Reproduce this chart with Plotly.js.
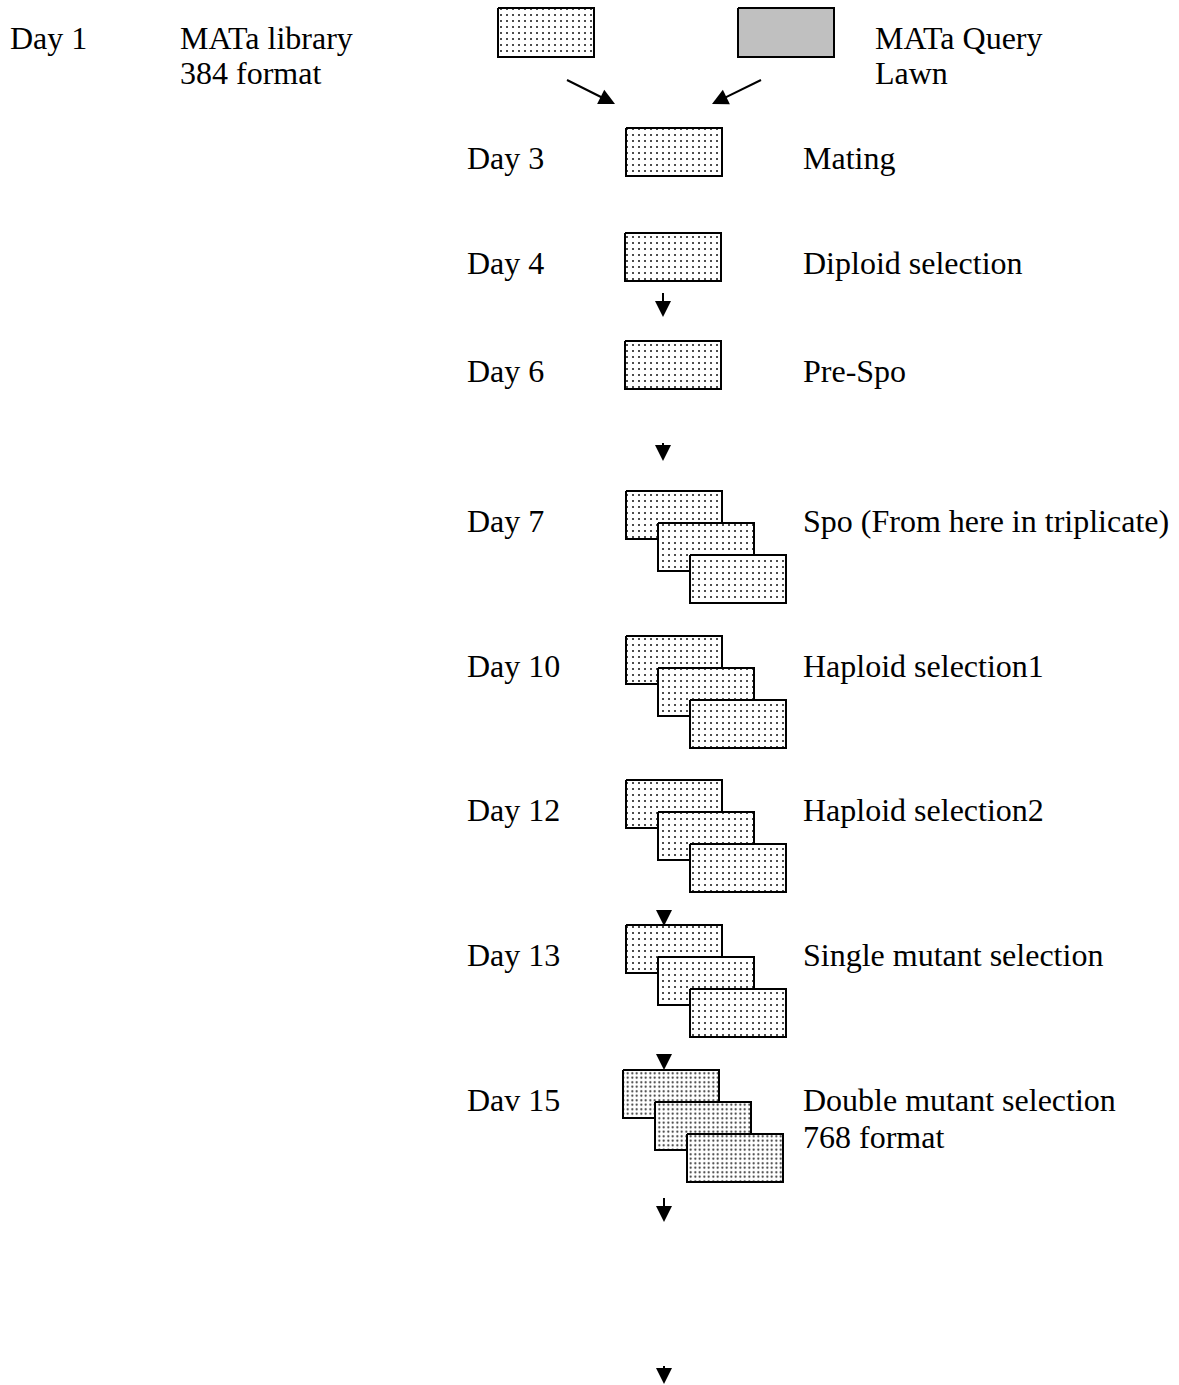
<!DOCTYPE html>
<html>
<head>
<meta charset="utf-8">
<script src="https://cdn.plot.ly/plotly-3.0.1.min.js"></script>
<style>
html,body{margin:0;padding:0;background:#fff;}
#chart{width:1179px;height:1385px;}
</style>
</head>
<body>
<div id="chart"></div>
<script>
// ---- content (data) ----
const headerDay = "Day 1";
const libraryLines = ["MATa library", "384 format"];
const queryLines = ["MATa Query", "Lawn"];
const stepDays = ["Day 3", "Day 4", "Day 6", "Day 7", "Day 10", "Day 12", "Day 13", "Dav 15"];
const stepNames = ["Mating", "Diploid selection", "Pre-Spo", "Spo (From here in triplicate)",
                   "Haploid selection1", "Haploid selection2", "Single mutant selection", "Double mutant selection"];
const stepSubNames = ["", "", "", "", "", "", "", "768 format"];
const stepPlates = [1, 1, 1, 3, 3, 3, 3, 3];
const stepDense = [false, false, false, false, false, false, false, true];

// ---- layout geometry (pixel space) ----
const W = 1179, H = 1385;
const geo = {
  stepTop: [128, 233, 341, 491, 636, 780, 925, 1070],
  stepLeft: [626, 625, 625, 626, 626, 626, 626, 623],
  plateW: 96, plateH: 48, offset: 32,
  dayX: 467, nameX: 803, labelDy: 30, subDy: 67,
  libBox: [498, 8, 594, 57], queryBox: [738, 8, 834, 57],
  arrows: [[567,80,615,104],[761,80,712,104],[663,293,663,317],[663,443,663,461],
           [664,911,664,926],[664,1054,664,1070],[664,1198,664,1222],[664,1366,664,1384]],
  headLen: 16, headHalf: 8
};
const FONT = {family: "Liberation Serif, Times New Roman, serif", size: 32, color: "#000"};

const traces = [];
function boxTrace(b, fill, dense) {
  const t = {
    type: "scatter", mode: "lines",
    x: [b[0], b[2], b[2], b[0], b[0]],
    y: [b[1], b[1], b[3], b[3], b[1]],
    fill: "toself",
    line: {color: "#000", width: 2},
    hoverinfo: "skip"
  };
  if (fill) { t.fillcolor = fill; }
  else {
    t.fillcolor = "white";
    t.fillpattern = dense
      ? {shape: ".", size: 4.5, solidity: 0.16, fgcolor: "#222", bgcolor: "white"}
      : {shape: ".", size: 6, solidity: 0.09, fgcolor: "#111", bgcolor: "white"};
  }
  return t;
}
traces.push(boxTrace(geo.libBox, null, false));
traces.push(boxTrace(geo.queryBox, "#c0c0c0", false));
stepDays.forEach((d, i) => {
  for (let k = 0; k < stepPlates[i]; k++) {
    const x0 = geo.stepLeft[i] + k * geo.offset, y0 = geo.stepTop[i] + k * geo.offset;
    traces.push(boxTrace([x0, y0, x0 + geo.plateW, y0 + geo.plateH], null, stepDense[i]));
  }
});

const annotations = [];
function label(text, x, y) {
  annotations.push({text: text, x: x, y: y, xref: "x", yref: "y", xanchor: "left", yanchor: "middle",
                    showarrow: false, font: FONT, borderpad: 0, borderwidth: 0});
}
label(headerDay, 10, 38);
libraryLines.forEach((t, j) => label(t, 180, 38 + 35 * j));
queryLines.forEach((t, j) => label(t, 875, 38 + 35 * j));
stepDays.forEach((d, i) => {
  const yc = geo.stepTop[i] + geo.labelDy;
  label(d, geo.dayX, yc);
  label(stepNames[i], geo.nameX, yc);
  if (stepSubNames[i]) label(stepSubNames[i], geo.nameX, geo.stepTop[i] + geo.subDy);
});

const shapes = [];
geo.arrows.forEach(a => {
  const [x0, y0, x1, y1] = a;
  const dx = x1 - x0, dy = y1 - y0, L = Math.hypot(dx, dy);
  const ux = dx / L, uy = dy / L, px = -uy, py = ux;
  const bx = x1 - ux * geo.headLen, by = y1 - uy * geo.headLen;
  shapes.push({type: "line", xref: "x", yref: "y", x0: x0, y0: y0, x1: bx + ux * 2, y1: by + uy * 2,
               line: {color: "#000", width: 2}});
  shapes.push({type: "path", xref: "x", yref: "y",
    path: `M${x1},${y1} L${bx + px * geo.headHalf},${by + py * geo.headHalf} L${bx - px * geo.headHalf},${by - py * geo.headHalf} Z`,
    fillcolor: "#000", line: {width: 0}});
});

const layout = {
  width: W, height: H,
  margin: {l: 0, r: 0, t: 0, b: 0, pad: 0},
  paper_bgcolor: "white", plot_bgcolor: "white",
  showlegend: false,
  xaxis: {range: [0, W], visible: false, fixedrange: true},
  yaxis: {range: [H, 0], visible: false, fixedrange: true},
  annotations: annotations,
  shapes: shapes
};
Plotly.newPlot("chart", traces, layout, {staticPlot: true, displayModeBar: false});
</script>
</body>
</html>
